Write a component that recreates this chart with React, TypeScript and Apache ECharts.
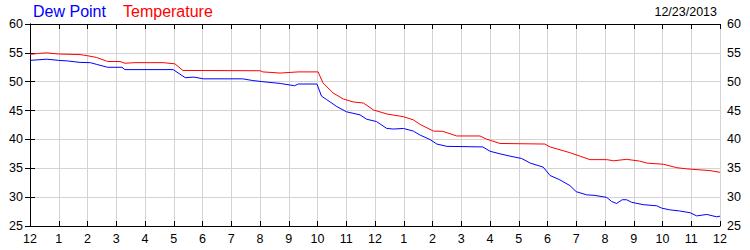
import React, { useEffect, useRef } from "react";
import * as echarts from "echarts";

const tempHours = [0, 0.3, 0.58, 1.0, 1.74, 2.0, 2.32, 2.7, 3.13, 3.3, 3.65, 4.63, 5.04, 5.32, 8.0, 8.1, 8.7, 9.33, 10.02, 10.19, 10.54, 10.9, 11.24, 11.6, 11.95, 12.42, 12.98, 13.33, 13.57, 14.03, 14.36, 14.84, 15.65, 15.88, 16.35, 17.91, 18.09, 18.78, 19.13, 19.48, 20.06, 20.3, 20.75, 21.2, 21.45, 22.03, 22.5, 22.84, 23.65, 24];
const tempValues = [54.75, 54.9, 55.0, 54.8, 54.7, 54.5, 54.2, 53.5, 53.5, 53.2, 53.3, 53.3, 53.1, 51.95, 51.9, 51.7, 51.5, 51.7, 51.7, 49.8, 48.05, 47.0, 46.5, 46.3, 45.1, 44.4, 43.95, 43.4, 42.6, 41.45, 41.4, 40.6, 40.6, 40.05, 39.3, 39.2, 38.7, 37.7, 37.1, 36.5, 36.5, 36.3, 36.55, 36.25, 35.9, 35.7, 35.1, 34.9, 34.6, 34.3];

const dewHours = [0, 0.58, 1.0, 1.3, 1.74, 2.1, 2.32, 2.7, 3.2, 3.3, 4.98, 5.4, 5.7, 6.03, 7.4, 7.75, 8.1, 8.7, 9.2, 9.33, 9.98, 10.14, 10.32, 10.67, 11.0, 11.48, 11.71, 12.05, 12.41, 12.64, 12.99, 13.33, 13.57, 13.91, 14.15, 14.5, 15.75, 16.0, 16.35, 16.7, 17.1, 17.4, 17.85, 18.09, 18.43, 18.78, 19.0, 19.36, 19.65, 20.06, 20.23, 20.4, 20.6, 20.75, 20.93, 21.33, 21.8, 21.97, 22.25, 22.6, 22.96, 23.19, 23.54, 23.88, 24];
const dewValues = [53.7, 53.9, 53.7, 53.6, 53.35, 53.3, 53.0, 52.5, 52.5, 52.1, 52.1, 50.7, 50.8, 50.5, 50.5, 50.2, 50.0, 49.7, 49.3, 49.6, 49.6, 47.5, 46.9, 45.7, 44.8, 44.25, 43.5, 43.1, 41.9, 41.8, 41.9, 41.45, 40.75, 40.0, 39.2, 38.8, 38.7, 37.95, 37.5, 37.1, 36.7, 35.9, 35.2, 33.75, 33.0, 32.0, 30.95, 30.4, 30.3, 29.95, 29.25, 28.9, 29.55, 29.55, 29.1, 28.7, 28.5, 28.1, 27.8, 27.6, 27.3, 26.75, 27.0, 26.6, 26.7];

const hourLabels = ["12", "1", "2", "3", "4", "5", "6", "7", "8", "9", "10", "11", "12", "1", "2", "3", "4", "5", "6", "7", "8", "9", "10", "11", "12"];
const seriesNames = ["Dew Point", "Temperature"];
const dateLabel = "12/23/2013";

const FONT = "Arial, 'Liberation Sans', sans-serif";

export default function App() {
  const ref = useRef<HTMLDivElement>(null);
  useEffect(() => {
    document.body.style.margin = "0";
    if (!ref.current) return;
    const chart = echarts.init(ref.current, null, { renderer: "svg" });
    const axisLineStyle = { color: "#000", width: 1 };
    const tick = { show: true, inside: true, length: 5, lineStyle: { color: "#000" } };
    const xBase = { type: "value", min: 0, max: 24, interval: 1 };
    const yBase = { type: "value", min: 25, max: 60, interval: 5 };
    chart.setOption({
      animation: false,
      backgroundColor: "#fff",
      grid: { left: 30, right: 30, top: 24, bottom: 24, containLabel: false },
      graphic: [
        { type: "text", left: 33, top: 3, style: { text: seriesNames[0], fill: "#0000ff", font: `16px ${FONT}` } },
        { type: "text", left: 123, top: 3, style: { text: seriesNames[1], fill: "#ff0000", font: `16px ${FONT}` } },
        { type: "text", right: 33, top: 5, style: { text: dateLabel, fill: "#000", font: `12.5px ${FONT}` } },
      ],
      xAxis: [
        {
          ...xBase,
          position: "bottom",
          axisLine: { show: true, lineStyle: axisLineStyle },
          axisTick: tick,
          axisLabel: {
            color: "#000",
            fontFamily: FONT,
            fontSize: 12.5,
            margin: 6,
            formatter: (v: number) => hourLabels[Math.round(v)] ?? "",
          },
          splitLine: { show: true, lineStyle: { color: "#d3d3d3", width: 1 } },
        },
        {
          ...xBase,
          position: "top",
          axisLine: { show: true, lineStyle: axisLineStyle },
          axisTick: tick,
          axisLabel: { show: false },
          splitLine: { show: false },
        },
      ],
      yAxis: [
        {
          ...yBase,
          position: "left",
          axisLine: { show: true, lineStyle: axisLineStyle },
          axisTick: tick,
          axisLabel: { color: "#000", fontFamily: FONT, fontSize: 12.5, margin: 7 },
          splitLine: { show: true, lineStyle: { color: "#d3d3d3", width: 1 } },
        },
        {
          ...yBase,
          position: "right",
          axisLine: { show: true, lineStyle: axisLineStyle },
          axisTick: tick,
          axisLabel: { color: "#000", fontFamily: FONT, fontSize: 12.5, margin: 7 },
          splitLine: { show: false },
        },
      ],
      series: [
        {
          name: seriesNames[0],
          type: "line",
          xAxisIndex: 0,
          yAxisIndex: 0,
          showSymbol: false,
          lineStyle: { color: "#0000ff", width: 1 },
          data: dewHours.map((h, i) => [h, dewValues[i]]),
          z: 3,
        },
        {
          name: seriesNames[1],
          type: "line",
          xAxisIndex: 0,
          yAxisIndex: 0,
          showSymbol: false,
          lineStyle: { color: "#ff0000", width: 1 },
          data: tempHours.map((h, i) => [h, tempValues[i]]),
          z: 3,
        },
      ],
    });
    return () => chart.dispose();
  }, []);
  return <div ref={ref} style={{ width: 750, height: 250 }} />;
}
